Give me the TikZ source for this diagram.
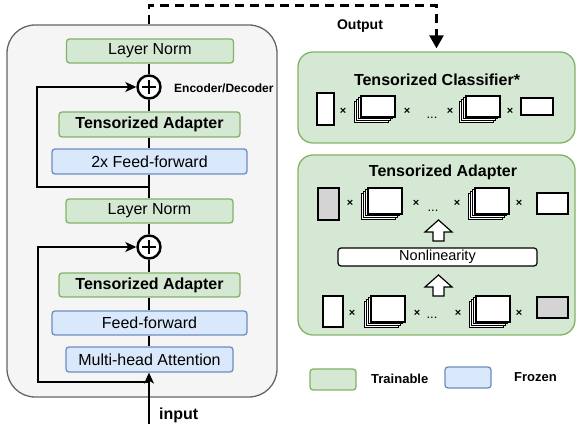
\documentclass[tikz,border=0pt]{standalone}
\usepackage{fontspec}
\setmainfont{Liberation Sans}
\usetikzlibrary{arrows.meta,calc}
\definecolor{gfill}{HTML}{D5E8D4}
\definecolor{gdraw}{HTML}{82B366}
\definecolor{bfill}{HTML}{DAE8FC}
\definecolor{bdraw}{HTML}{6C8EBF}
\definecolor{encfill}{HTML}{F5F5F5}
\definecolor{encdraw}{HTML}{666666}
\definecolor{greyrect}{HTML}{D4D4D4}
\newcommand{\fs}[1]{\fontsize{#1}{#1}\selectfont}
\tikzset{
  gbox/.style={draw=gdraw, fill=gfill, rounded corners=3pt, line width=1.3pt, inner sep=0pt},
  bbox/.style={draw=bdraw, fill=bfill, rounded corners=3pt, line width=1.3pt, inner sep=0pt},
  lbl/.style={font=\fs{16}},
  blbl/.style={font=\fs{16}\bfseries},
  conn/.style={line width=1.3pt, black},
  tip/.style={-{Stealth[length=11pt,width=10pt,inset=3pt]}},
  plusnode/.style={circle, draw, line width=2.4pt, minimum size=23pt, inner sep=0pt, fill=white},
  mat/.style={draw=black, line width=1.2pt, fill=white},
  greymat/.style={draw=black, line width=1.2pt, fill=greyrect},
  times/.style={font=\fs{11}\bfseries, inner sep=0pt},
  dots/.style={font=\fs{13}, inner sep=0pt, anchor=base},
  hollow/.style={draw=black, line width=1.2pt, fill=white, line join=miter},
  pics/stk/.style args={#1/#2}{code={
    \foreach \k in {3,2,1}{\draw[mat] (-2.2*\k,1.8*\k) rectangle ++(#1,#2);}
    \draw[mat] (0,0) rectangle ++(#1,#2);
  }}
}
\begin{document}
\begin{tikzpicture}[x=1pt,y=-1pt]
\useasboundingbox (0,0) rectangle (576,430);

% encoder/decoder container
\node[draw=encdraw, fill=encfill, line width=1.3pt, rounded corners=28pt,
      minimum width=270pt, minimum height=372pt] (enc) at (142,211) {};

% left column nodes
\node[gbox, minimum width=167pt, minimum height=24pt, lbl] (ln1) at (150,51) {Layer Norm};
\node[plusnode] (p1) at (149,87) {};
\node[gbox, minimum width=181pt, minimum height=25pt, blbl] (ta1) at (149.5,124.5) {Tensorized Adapter};
\node[bbox, minimum width=195pt, minimum height=25pt, lbl] (ff2) at (149.5,161.5) {2x Feed-forward};
\node[gbox, minimum width=167pt, minimum height=24pt, lbl] (ln2) at (149.5,211) {Layer Norm};
\node[plusnode] (p2) at (149,247) {};
\node[gbox, minimum width=181pt, minimum height=24pt, blbl] (ta2) at (149.5,285) {Tensorized Adapter};
\node[bbox, minimum width=195pt, minimum height=24pt, lbl] (ff) at (149.5,323) {Feed-forward};
\node[bbox, minimum width=167pt, minimum height=25pt, lbl] (mha) at (149.5,359.5) {Multi-head Attention};

\foreach \p in {p1,p2}{
  \draw[line width=2.4pt] ($(\p.center)+(-7,0)$) -- ($(\p.center)+(7,0)$);
  \draw[line width=2.4pt] ($(\p.center)+(0,-7)$) -- ($(\p.center)+(0,7)$);
}

\node[font=\fs{12}\bfseries, anchor=west, inner sep=0pt] (encl) at (174,88) {Encoder/Decoder};

% vertical connectors
\draw[conn] (ln1.south -| p1) -- (p1.north);
\draw[conn] (p1.south) -- (ta1.north -| p1);
\draw[conn] (ta1.south -| p1) -- (ff2.north -| p1);
\draw[conn] (ff2.south -| p1) -- (ln2.north -| p1);
\draw[conn] (ln2.south -| p2) -- (p2.north);
\draw[conn] (p2.south) -- (ta2.north -| p2);
\draw[conn] (ta2.south -| p2) -- (ff.north -| p2);
\draw[conn] (ff.south -| p2) -- (mha.north -| p2);

% residual connections
\coordinate (r1) at (149,187);
\coordinate (r2) at (149,382);
\draw[conn, tip] (r1) -- ++(-112,0) |- (p1.west);
\draw[conn, tip] (r2) -- ++(-111,0) |- (p2.west);

% input
\coordinate (inp) at (149,424);
\draw[conn, tip] (inp) -- (mha.south -| inp);
\node[font=\fs{16}\bfseries, anchor=base west, inner sep=0pt] (inl) at (159,420) {input};

% classifier box
\node[gbox, rounded corners=15pt, minimum width=277pt, minimum height=91pt] (cls) at (436.5,97.5) {};
\node[font=\fs{16}\bfseries, inner sep=0pt] (clst) at (437,80) {Tensorized Classifier*};

% output dashed connector
\draw[line width=2.5pt, dash pattern=on 9pt off 6pt, shorten >=3pt,
      -{Triangle[length=13pt,width=14pt]}] (enc.north -| p1) -- ++(0,-19) -| (cls.north);
\node[font=\fs{14}\bfseries, inner sep=0pt] (outl) at (360,26) {Output};

% classifier contents
\draw[mat] (317,93) rectangle (334,125);
\node[times] (c1) at (343,111) {×};
\pic at (361,96) {stk=34/21};
\node[times] (c2) at (407,111) {×};
\node[dots] (cd) at (432,119) {...};
\node[times] (c3) at (450,111) {×};
\pic at (466,96) {stk=34/21};
\node[times] (c4) at (510,111) {×};
\draw[mat] (521,98) rectangle (553,115);

% adapter box
\node[gbox, rounded corners=15pt, minimum width=277pt, minimum height=180pt] (adp) at (436.5,245) {};
\node[font=\fs{16}\bfseries, inner sep=0pt] (adpt) at (443,172) {Tensorized Adapter};

% top row
\draw[greymat] (318,188) rectangle (339,220);
\node[times] (a1) at (350,203) {×};
\pic at (368,188) {stk=34/26};
\node[times] (a2) at (416,203) {×};
\node[dots] (ad1) at (433,212) {...};
\node[times] (a3) at (457,203) {×};
\pic at (475,188) {stk=34/26};
\node[times] (a4) at (519,203) {×};
\draw[mat] (537,193) rectangle (568,214);

% arrows and nonlinearity
\draw[hollow] (438.5,220) -- (452,232) -- (444,232) -- (444,241) -- (433,241) -- (433,232) -- (425,232) -- cycle;
\node[draw=black, fill=white, line width=1.2pt, rounded corners=3pt, minimum width=199pt,
      minimum height=18pt, inner sep=0pt, font=\fs{14.5}] (nl) at (437.5,257) {Nonlinearity};
\draw[hollow] (438.5,275) -- (452,287) -- (444,287) -- (444,296) -- (433,296) -- (433,287) -- (425,287) -- cycle;

% bottom row
\draw[mat] (323,296) rectangle (343,327);
\node[times] (b1) at (352,313) {×};
\pic at (371,296) {stk=34/26};
\node[times] (b2) at (417,313) {×};
\node[dots] (bd) at (432,319) {...};
\node[times] (b3) at (458,313) {×};
\pic at (476,296) {stk=34/26};
\node[times] (b4) at (519,313) {×};
\draw[greymat] (537,297) rectangle (568,318);

% legend
\node[gbox, minimum width=46pt, minimum height=21pt] (lg) at (333,379.5) {};
\node[font=\fs{13}\bfseries, anchor=west, inner sep=0pt] (lgt) at (371,379) {Trainable};
\node[bbox, minimum width=46pt, minimum height=21pt] (lb) at (468,377.5) {};
\node[font=\fs{13}\bfseries, anchor=west, inner sep=0pt] (lbt) at (514,377) {Frozen};
\end{tikzpicture}
\end{document}
